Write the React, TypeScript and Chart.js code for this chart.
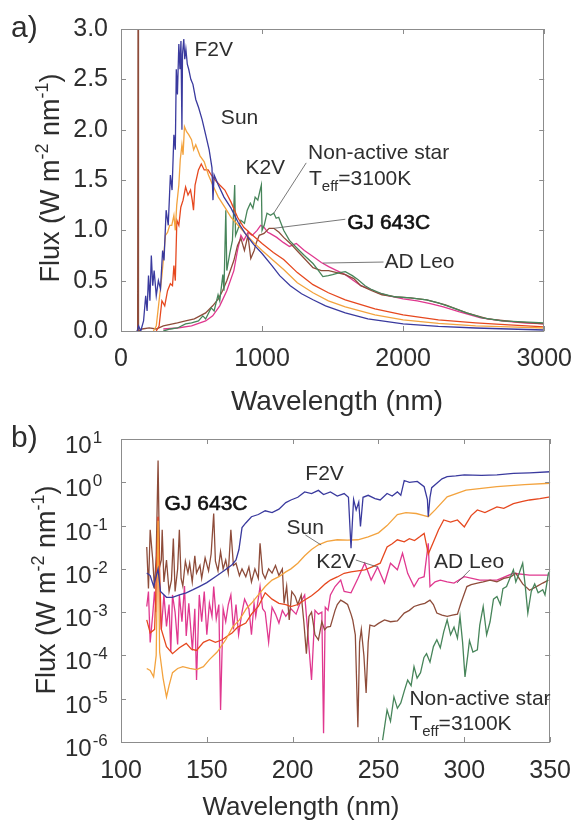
import React, { useEffect, useRef } from "react";
import { Chart, registerables } from "chart.js";
Chart.register(...registerables);

type Pt = [number, number];

// ---------------- Panel a: 0–3000 nm, linear flux (W m-2 nm-1) ----------------
const A_F2V: Pt[] = [
  [115, 0], [125, 0.05], [140, 0.0], [160, 0.1], [175, 0.35], [185, 0.2], [195, 0.55], [205, 0.3],
  [215, 0.75], [225, 0.45], [235, 0.6], [250, 0.35], [265, 0.5], [280, 0.42], [295, 0.8], [305, 0.7],
  [320, 1.2], [335, 1.05], [350, 1.55], [362, 1.4], [375, 1.95], [385, 1.8], [392, 2.6], [400, 2.35],
  [410, 2.85], [418, 2.6], [425, 2.88], [432, 2.0], [436, 2.75], [445, 2.9], [452, 2.7], [460, 2.8],
  [470, 2.65], [480, 2.6], [495, 2.5], [510, 2.45], [530, 2.3], [550, 2.22], [575, 2.1], [600, 1.95],
  [625, 1.8], [645, 1.62], [652, 1.3], [660, 1.55], [690, 1.45], [730, 1.33], [780, 1.22], [830, 1.08],
  [880, 0.97], [940, 0.86], [1000, 0.77], [1070, 0.65], [1125, 0.55], [1200, 0.45], [1280, 0.37],
  [1361, 0.31], [1450, 0.25], [1590, 0.18], [1750, 0.12], [2000, 0.07], [2250, 0.045], [2514, 0.03],
  [2750, 0.02], [3000, 0.01],
];
const A_SUN: Pt[] = [
  [230, 0], [250, 0.05], [270, 0.3], [290, 0.55], [300, 0.7], [315, 0.95], [330, 0.98], [345, 1.05],
  [360, 1.05], [375, 1.15], [385, 1.0], [395, 1.25], [410, 1.45], [420, 1.7], [432, 1.85], [440, 1.75],
  [450, 2.03], [465, 1.98], [480, 1.95], [500, 1.9], [515, 1.8], [530, 1.85], [560, 1.74], [590, 1.68],
  [620, 1.55], [650, 1.45], [690, 1.33], [740, 1.22], [780, 1.13], [830, 1.05], [880, 0.97], [940, 0.88],
  [1000, 0.8], [1080, 0.7], [1153, 0.61], [1250, 0.48], [1361, 0.38], [1470, 0.3], [1590, 0.24],
  [1800, 0.16], [2000, 0.11], [2250, 0.075], [2514, 0.05], [2750, 0.04], [3000, 0.03],
];
const A_K2V: Pt[] = [
  [250, 0], [270, 0.05], [290, 0.3], [310, 0.25], [330, 0.4], [350, 0.47], [365, 0.45], [375, 0.65],
  [385, 0.5], [396, 1.1], [410, 1.05], [424, 1.23], [440, 1.3], [458, 1.43], [475, 1.35], [493, 1.4],
  [505, 1.3], [514, 1.2], [525, 1.45], [549, 1.6], [569, 1.66], [590, 1.6], [618, 1.6], [640, 1.55],
  [667, 1.5], [700, 1.45], [736, 1.4], [780, 1.28], [826, 1.13], [870, 1.03], [917, 0.97], [1000, 0.87],
  [1080, 0.78], [1153, 0.71], [1250, 0.58], [1361, 0.46], [1470, 0.38], [1590, 0.31], [1800, 0.22],
  [2000, 0.16], [2250, 0.11], [2514, 0.08], [2750, 0.06], [3000, 0.04],
];
const A_NONACTIVE: Pt[] = [
  [300, 0], [350, 0.02], [400, 0.03], [458, 0.07], [500, 0.08], [549, 0.1], [580, 0.15], [600, 0.12],
  [639, 0.23], [660, 0.2], [688, 0.36], [700, 0.3], [722, 0.56], [730, 0.4], [743, 1.2], [750, 0.6],
  [771, 0.77], [790, 0.9], [806, 1.45], [812, 0.95], [826, 1.0], [850, 1.1], [875, 1.07], [895, 1.2],
  [917, 1.27], [935, 1.22], [951, 1.33], [970, 1.3], [986, 1.4], [995, 1.45], [1000, 1.0], [1015, 1.05],
  [1035, 1.17], [1060, 1.15], [1083, 1.17], [1100, 1.12], [1118, 1.13], [1153, 1.0], [1194, 0.9],
  [1243, 0.83], [1264, 0.8], [1300, 0.75], [1361, 0.67], [1400, 0.6], [1431, 0.54], [1470, 0.55],
  [1500, 0.56], [1550, 0.58], [1590, 0.59], [1640, 0.55], [1681, 0.51], [1730, 0.45], [1778, 0.41],
  [1850, 0.37], [1938, 0.34], [2050, 0.33], [2167, 0.31], [2250, 0.28], [2333, 0.24], [2450, 0.18],
  [2563, 0.13], [2700, 0.1], [2850, 0.09], [3000, 0.08],
];
const A_GJ643C: Pt[] = [
  [110, 0], [118, 0], [121, 3.5], [124, 0], [150, 0.02], [200, 0.03], [250, 0.02], [300, 0.05],
  [400, 0.08], [458, 0.1], [520, 0.12], [560, 0.15], [600, 0.18], [650, 0.25], [690, 0.32], [720, 0.4],
  [750, 0.5], [780, 0.62], [800, 0.7], [826, 0.85], [850, 0.92], [875, 0.8], [900, 0.95], [920, 0.72],
  [944, 0.8], [960, 0.88], [980, 0.95], [1014, 0.97], [1050, 1.02], [1083, 1.02], [1120, 0.98],
  [1153, 0.93], [1200, 0.87], [1260, 0.78], [1300, 0.72], [1361, 0.63], [1420, 0.6], [1472, 0.6],
  [1530, 0.58], [1590, 0.56], [1650, 0.52], [1700, 0.45], [1778, 0.4], [1850, 0.36], [1950, 0.34],
  [2050, 0.33], [2167, 0.31], [2300, 0.26], [2450, 0.18], [2600, 0.12], [2800, 0.09], [3000, 0.07],
];
const A_ADLEO: Pt[] = [
  [300, 0.02], [400, 0.03], [500, 0.05], [600, 0.1], [650, 0.15], [700, 0.25], [750, 0.4], [800, 0.6],
  [826, 0.8], [850, 0.95], [870, 0.9], [900, 0.98], [930, 0.95], [965, 1.0], [990, 1.05], [1014, 1.03],
  [1040, 0.98], [1056, 0.97], [1080, 0.95], [1104, 0.93], [1150, 0.88], [1194, 0.84], [1243, 0.87],
  [1300, 0.8], [1361, 0.74], [1420, 0.68], [1472, 0.64], [1530, 0.6], [1590, 0.56], [1650, 0.5],
  [1700, 0.45], [1778, 0.41], [1819, 0.38], [1900, 0.35], [2000, 0.32], [2100, 0.3], [2200, 0.27],
  [2285, 0.24], [2400, 0.19], [2550, 0.13], [2700, 0.1], [2850, 0.08], [3000, 0.07],
];
const A_X_TICKS = [0, 1000, 2000, 3000];
const A_Y_TICKS = [0, 0.5, 1.0, 1.5, 2.0, 2.5, 3.0];

// ---------------- Panel b: 100–350 nm, log flux ----------------
const B_F2V: Pt[] = [
  [115, 8e-3], [117, 7e-3], [119, 4e-3], [121.6, 1e-2], [123, 3e-3], [126.5, 2.2e-3], [130, 2.2e-3],
  [134, 2.5e-3], [138, 2.8e-3], [142, 3.3e-3], [145.6, 3.9e-3], [150, 4.8e-3], [155, 6.6e-3], [160, 9e-3],
  [164.7, 1.25e-2], [167, 1.6e-2], [168.7, 2.8e-2], [170.5, 9e-2], [172.7, 1.15e-1], [176, 1.6e-1],
  [180, 1.8e-1], [184, 2.2e-1], [188, 2.0e-1], [192, 2.4e-1], [196, 3.4e-1], [199, 3.9e-1], [203, 4.5e-1],
  [207, 6.0e-1], [211, 5.5e-1], [215, 6.5e-1], [218, 5.2e-1], [222, 6.0e-1], [226, 4.8e-1], [230, 5.5e-1],
  [232.5, 4.5e-1], [234, 3.0e-2], [235.5, 4.0e-1], [237, 2.3e-1], [238.5, 3.5e-1], [239.5, 9.5e-2],
  [241, 4.5e-1], [244, 5.0e-1], [248, 4.2e-1], [251, 3.9e-1], [255, 5.5e-1], [258, 4.8e-1], [261, 6.0e-1],
  [263, 5.0e-1], [265, 1.1], [268, 1.0], [272.6, 1.05], [276.6, 7.9e-1], [278.5, 4.0e-1], [279, 1.6e-1],
  [280, 4.5e-1], [281, 7.5e-1], [284, 9.5e-1], [287, 1.2], [290, 1.35], [295, 1.4], [300, 1.48],
  [310, 1.45], [319, 1.48], [328.6, 1.6], [338, 1.65], [350, 1.75],
];
const B_SUN: Pt[] = [
  [115, 5e-5], [117, 4.5e-5], [119, 3.2e-5], [120.5, 1e-4], [121.6, 1.3e-1], [122.5, 1.2e-4],
  [124.5, 3e-5], [126.5, 1.1e-5], [128, 2e-5], [130, 4e-5], [133, 5e-5], [136, 5.5e-5], [140, 5e-5],
  [144, 4.7e-5], [148, 5.5e-5], [151.5, 8e-5], [156, 1.2e-4], [161, 2.3e-4], [165, 4.5e-4], [169, 6.6e-4],
  [173, 1.2e-3], [176, 1.6e-3], [180, 2.5e-3], [184, 3.9e-3], [188, 5.5e-3], [192, 6.6e-3], [196, 8.5e-3],
  [199, 1.0e-2], [203, 1.35e-2], [207, 2.0e-2], [211, 2.8e-2], [215, 3.6e-2], [220, 4.3e-2], [226, 4.7e-2],
  [232, 4.6e-2], [238, 4.7e-2], [244, 5.5e-2], [250, 6.8e-2], [255, 1.0e-1], [261, 1.8e-1], [266, 2.0e-1],
  [272, 1.9e-1], [276.6, 1.7e-1], [279, 1.6e-1], [283, 2.3e-1], [290, 4.6e-1], [301, 6.6e-1],
  [319, 7.9e-1], [335, 8.8e-1], [350, 9.5e-1],
];
const B_K2V: Pt[] = [
  [115, 6.6e-4], [117, 3.3e-4], [119.6, 4e-4], [121.6, 1.6e-1], [123.5, 4e-4], [126.5, 1.6e-4],
  [130, 1.1e-4], [134, 1.5e-4], [138, 1.9e-4], [141, 1.4e-4], [144, 1.3e-4], [148, 2.0e-4], [151.5, 2.3e-4],
  [155, 2.0e-4], [159, 2.3e-4], [162, 2.8e-4], [164.7, 3.3e-4], [168, 4.5e-4], [172.7, 5.6e-4], [176, 9e-4],
  [180, 1.35e-3], [184, 2.8e-3], [188, 2.0e-3], [192, 1.6e-3], [196, 1.5e-3], [199, 1.35e-3], [203, 1.5e-3],
  [207, 1.9e-3], [211, 2.4e-3], [215, 3.2e-3], [219, 4.5e-3], [222, 5.5e-3], [226, 6.5e-3], [230, 7.9e-3],
  [234, 8.5e-3], [238, 9e-3], [242, 9.5e-3], [246, 1.1e-2], [251, 1.35e-2], [255, 3.2e-2], [258, 3.8e-2],
  [261, 4.7e-2], [265, 4.2e-2], [268, 5.0e-2], [271, 4.5e-2], [274, 5.5e-2], [276.6, 6.6e-2], [279, 2.2e-2],
  [282, 4.2e-2], [285, 8.0e-2], [288, 1.35e-1], [292, 1.2e-1], [296, 1.35e-1], [300, 9.3e-2], [304, 1.7e-1],
  [307.6, 2.3e-1], [312, 2.0e-1], [319, 2.7e-1], [323, 2.5e-1], [328.6, 3.2e-1], [334, 3.6e-1],
  [338, 3.9e-1], [344, 4.2e-1], [350, 4.6e-1],
];
const B_GJ643C: Pt[] = [
  [115, 3.2e-2], [116, 3.5e-3], [117, 8e-2], [118.5, 1.6e-2], [119.5, 3.5e-3], [120.5, 2e-2], [121.6, 3.2],
  [122.5, 1.1e-2], [123.5, 1.6e-2], [124, 8e-2], [125, 5e-3], [126.5, 1.6e-2], [128, 3e-3], [129.4, 5.5e-3],
  [130.5, 5e-2], [131.5, 3e-3], [133, 1e-2], [134, 8e-2], [135, 6e-3], [136, 4e-3], [137.5, 1.5e-2],
  [139, 8e-3], [140, 1.35e-2], [141.5, 5e-3], [143, 2e-2], [144, 8e-3], [146, 1.2e-2], [147, 6e-3],
  [149, 1.8e-2], [151, 9e-3], [152.5, 2.2e-2], [154, 1.9e-1], [155, 1.5e-2], [156.5, 9e-3], [158, 2.5e-2],
  [159.5, 1e-2], [161, 1.6e-2], [162.5, 8e-3], [164, 8e-2], [165.5, 1.2e-2], [167, 1.35e-2], [169, 7e-3],
  [170.5, 1.0e-2], [172.7, 6.6e-3], [174.5, 1.1e-2], [176, 5e-3], [178, 1.0e-2], [180, 6e-3], [181, 3.9e-2],
  [182.5, 8e-3], [184, 6e-3], [186, 1.0e-2], [188, 8e-3], [190, 1.2e-2], [192, 7e-3], [194, 1.0e-2],
  [195, 1.6e-3], [196.5, 4e-3], [198, 6.6e-4], [199.5, 3e-3], [201.5, 2.3e-3], [203, 1.5e-3], [205, 2.5e-3],
  [206.5, 6e-4], [208, 1.1e-4], [209.5, 8e-4], [211, 1.0e-3], [213, 3e-4], [215, 2.3e-4], [217, 6e-4],
  [218.6, 3.9e-4], [220, 4.5e-4], [222, 4.7e-4], [224.7, 1.1e-3], [226, 1.5e-3], [228, 1.9e-3],
  [230, 1.7e-3], [232, 1.5e-3], [234, 9e-4], [235, 6.6e-4], [236.5, 3e-4], [238, 2.2e-6], [239, 2e-4],
  [240, 4e-4], [241.5, 1e-4], [242.8, 1.35e-5], [244, 2e-4], [245, 5e-4], [247.6, 4.7e-4], [250, 5.5e-4],
  [253.5, 6.6e-4], [257, 6.0e-4], [261, 6.3e-4], [265, 9.5e-4], [268, 1.1e-3], [270.7, 1.35e-3],
  [274, 1.5e-3], [277, 1.6e-3], [280, 1.9e-3], [282, 1.5e-3], [284, 9.5e-4], [287, 8.5e-4], [290, 8.0e-4],
  [293, 8.5e-4], [296, 9.0e-4], [298, 1.6e-3], [301.5, 3.9e-3], [304, 4.3e-3], [307.6, 4.7e-3],
  [311, 5.0e-3], [315, 5.5e-3], [319, 5.0e-3], [323, 6.0e-3], [327, 6.5e-3], [330, 7.9e-3], [334, 4.5e-3],
  [338, 3.2e-3], [342, 3.9e-3], [345.7, 4.7e-3], [349, 5.5e-3],
];
const B_ADLEO: Pt[] = [
  [115, 1.35e-3], [116, 3e-3], [117, 2e-4], [118.5, 9e-4], [119.5, 3e-3], [120.5, 1e-3], [121.6, 1.6e-1],
  [122.5, 2e-3], [123.5, 4e-4], [125, 2.5e-3], [126.5, 4.7e-4], [128, 1.5e-3], [129, 1.2e-4], [130, 2.5e-3],
  [131.5, 1e-3], [133, 1.8e-4], [134, 2.5e-3], [135.5, 6e-4], [137, 4e-3], [138, 2.8e-4], [139.5, 1.6e-3],
  [141.6, 1.3e-4], [143, 1.2e-3], [144, 2.7e-5], [145.6, 2.5e-3], [147, 6e-4], [148.5, 3e-3], [150, 3e-4],
  [151.5, 1.6e-3], [153, 8e-4], [154, 3.9e-3], [155.5, 7e-4], [157, 1.5e-3], [158, 5.5e-6], [159.5, 1.2e-3],
  [161, 6e-4], [162.5, 1.5e-3], [164, 2.5e-3], [165.5, 4e-4], [167, 1.5e-3], [168.5, 3e-4], [170.5, 1e-3],
  [172, 2e-3], [174.5, 1.2e-3], [176, 3e-4], [177.5, 1.6e-3], [178.5, 8e-4], [181, 3.9e-3], [182.5, 1.2e-3],
  [184, 1e-3], [186, 2e-4], [188, 1.3e-3], [190, 9e-4], [192, 5.6e-4], [194, 1.1e-3], [196, 8e-4],
  [199, 1.2e-3], [202, 9e-4], [204, 1.5e-3], [207, 2.5e-3], [209, 2.8e-4], [211, 2.7e-5], [213, 1.1e-3],
  [215, 9e-4], [217, 1e-3], [218, 1.6e-6], [219, 1.3e-3], [220.6, 1.1e-3], [222, 2.5e-3], [224.7, 3.9e-3],
  [228, 5.5e-3], [230, 3e-3], [234, 2.8e-3], [238, 6e-3], [242, 1.35e-2], [245.7, 5.5e-3], [249.5, 1.1e-2],
  [253.5, 4.7e-3], [257, 1.35e-2], [261, 9.5e-3], [264, 2.3e-2], [267, 7.9e-3], [270.7, 3.9e-3],
  [273.5, 6e-3], [276.6, 6.6e-3], [279, 3.9e-2], [280, 3.9e-3], [283, 5e-3], [286, 5.5e-3], [290, 5e-3],
  [294, 4.7e-3], [300, 6.6e-3], [309, 5.5e-3], [319, 5.5e-3], [328.6, 7.9e-3], [338, 7.2e-3], [349, 7.2e-3],
];
const B_NONACTIVE: Pt[] = [
  [252.4, 1.1e-6], [255, 5.5e-6], [257, 3e-6], [259, 1.1e-5], [261, 6e-6], [263, 8e-6], [265, 1.5e-5],
  [267, 2.7e-5], [269, 2.0e-5], [270.7, 5.5e-5], [272.5, 3e-5], [274.5, 4e-5], [276.5, 9e-5], [278, 1.1e-4],
  [280, 7e-5], [282, 1.6e-4], [284, 2.3e-4], [286, 1.5e-4], [288, 3.5e-4], [290, 6.6e-4], [292, 3e-4],
  [294, 4.5e-4], [296, 2.5e-4], [297.5, 8e-4], [299, 2e-4], [300.4, 3.2e-5], [302, 1e-4], [303, 2.2e-4],
  [305, 1.2e-4], [307.6, 1.35e-4], [309, 5e-4], [311, 1.35e-3], [313, 3e-4], [315, 6e-4], [317, 2e-3],
  [319, 2.3e-3], [321, 1.5e-3], [322.5, 3.5e-3], [324.6, 3.9e-3], [326.5, 6e-3], [328.6, 9.5e-3],
  [330, 5e-3], [332, 8e-3], [334, 1.35e-2], [335.5, 4e-3], [337, 9.5e-4], [339, 3e-3], [341, 4.5e-3],
  [343, 2.8e-3], [345.7, 3.3e-3], [347, 2.5e-3], [349, 7.9e-3], [350, 9e-3],
];
const B_X_TICKS = [100, 150, 200, 250, 300, 350];
const B_Y_EXPONENTS = [1, 0, -1, -2, -3, -4, -5, -6];

const SERIES = ["F2V", "Sun", "K2V", "Non-active star", "GJ 643C", "AD Leo"];

// ---------------- Styling ----------------
const FONT = '"Liberation Sans", Arial, Helvetica, sans-serif';
const TEXT = "#2e2e2e";
const COLORS: Record<string, string> = {
  "F2V": "#3a3a9e",
  "Sun": "#f3a33e",
  "K2V": "#e6481f",
  "Non-active star": "#47855a",
  "GJ 643C": "#8e4c3a",
  "AD Leo": "#e0388f",
};

type Seg = { t: string; m?: "sup" | "sub" };
type Note = { segs: Seg[]; x: number; y: number; strong?: boolean };
type Leader = [number, number, number, number];

const TEFF: Seg[] = [{ t: "T" }, { t: "eff", m: "sub" }, { t: "=3100K" }];
const A_NOTES: Note[] = [
  { segs: [{ t: "F2V" }], x: 521, y: 2.81 },
  { segs: [{ t: "Sun" }], x: 708, y: 2.13 },
  { segs: [{ t: "K2V" }], x: 882, y: 1.63 },
  { segs: [{ t: "Non-active star" }], x: 1326, y: 1.78 },
  { segs: TEFF, x: 1333, y: 1.52 },
  { segs: [{ t: "GJ 643C" }], x: 1604, y: 1.09, strong: true },
  { segs: [{ t: "AD Leo" }], x: 1868, y: 0.7 },
];
const A_LEADERS: Leader[] = [
  [1313, 1.67, 1083, 1.17],
  [1590, 1.11, 1083, 1.02],
  [1861, 0.685, 1431, 0.675],
];
const B_NOTES: Note[] = [
  { segs: [{ t: "F2V" }], x: 207.4, y: 1.64 },
  { segs: [{ t: "GJ 643C" }], x: 125.4, y: 0.35, strong: true },
  { segs: [{ t: "Sun" }], x: 196.4, y: 0.093 },
  { segs: [{ t: "K2V" }], x: 213.7, y: 0.0152 },
  { segs: [{ t: "AD Leo" }], x: 282.4, y: 0.0152 },
  { segs: [{ t: "Non-active star" }], x: 268, y: 1.04e-5 },
  { segs: TEFF, x: 268, y: 2.77e-6 },
];
const B_LEADERS: Leader[] = [
  [207.4, 0.0607, 216.6, 0.0356],
  [236.8, 0.016, 249.5, 0.011],
  [303.2, 9.4e-3, 295.7, 4.7e-3],
];
const Y_TITLE: Seg[] = [{ t: "Flux (W m" }, { t: "-2", m: "sup" }, { t: " nm" }, { t: "-1", m: "sup" }, { t: ")" }];

function drawRich(
  ctx: CanvasRenderingContext2D,
  segs: Seg[],
  x: number,
  y: number,
  size: number,
  align: "left" | "center",
  opts: { rotate?: boolean; color?: string; strong?: boolean; small?: number } = {}
) {
  const small = opts.small ?? Math.round(size * 0.68);
  const fontOf = (s: Seg) => `${s.m ? small : size}px ${FONT}`;
  const widths = segs.map((s) => {
    ctx.font = fontOf(s);
    return ctx.measureText(s.t).width;
  });
  const total = widths.reduce((a, b) => a + b, 0);
  ctx.save();
  ctx.translate(x, y);
  if (opts.rotate) ctx.rotate(-Math.PI / 2);
  ctx.textAlign = "left";
  ctx.textBaseline = "alphabetic";
  ctx.fillStyle = opts.color ?? TEXT;
  ctx.strokeStyle = opts.color ?? TEXT;
  let cx = align === "center" ? -total / 2 : 0;
  segs.forEach((s, i) => {
    ctx.font = fontOf(s);
    const dy = s.m === "sup" ? -size * 0.4 : s.m === "sub" ? size * 0.28 : 0;
    ctx.fillText(s.t, cx, dy);
    if (opts.strong) {
      ctx.lineWidth = 0.6;
      ctx.strokeText(s.t, cx, dy);
    }
    cx += widths[i];
  });
  ctx.restore();
}

type PanelCfg = {
  key: "a" | "b";
  height: number;
  pad: { top: number; right: number };
  xHeight: number;
  series: Pt[][];
  xMin: number;
  xMax: number;
  xTicks: number[];
  yLog: boolean;
  yMin: number;
  yMax: number;
  yTicks: number[];
  notes: Note[];
  leaders: Leader[];
  xTitleSize: number;
  xTitleBase: number;
  xTitleCenter: number;
  yTitleX: number;
  yTitleY: number;
  tickPad: number;
};

function makeDecor(cfg: PanelCfg) {
  return {
    id: "decor" + cfg.key,
    afterDraw(chart: any) {
      const ctx: CanvasRenderingContext2D = chart.ctx;
      const { left, right, top, bottom } = chart.chartArea;
      const xs = chart.scales.x;
      const ys = chart.scales.y;
      ctx.save();
      // frame
      ctx.strokeStyle = "#8c8c8c";
      ctx.lineWidth = 1;
      ctx.strokeRect(Math.round(left) + 0.5, Math.round(top) + 0.5, Math.round(right - left) - 1, Math.round(bottom - top));
      // inward tick marks on all four sides
      const TL = 5;
      ctx.beginPath();
      cfg.xTicks.forEach((v) => {
        const px = Math.round(xs.getPixelForValue(v)) + 0.5;
        ctx.moveTo(px, bottom);
        ctx.lineTo(px, bottom - TL);
        ctx.moveTo(px, top);
        ctx.lineTo(px, top + TL);
      });
      cfg.yTicks.forEach((v) => {
        const py = Math.round(ys.getPixelForValue(v)) + 0.5;
        ctx.moveTo(left, py);
        ctx.lineTo(left + TL, py);
        ctx.moveTo(right, py);
        ctx.lineTo(right - TL, py);
      });
      ctx.stroke();

      // log tick labels (10^n) for panel b
      if (cfg.yLog) {
        B_Y_EXPONENTS.forEach((e) => {
          const py = ys.getPixelForValue(Math.pow(10, e));
          ctx.fillStyle = TEXT;
          ctx.textAlign = "left";
          ctx.textBaseline = "alphabetic";
          ctx.font = `24px ${FONT}`;
          ctx.fillText("10", 65, py + 14);
          const w = ctx.measureText("10").width;
          ctx.font = `17px ${FONT}`;
          ctx.fillText(String(e), 65 + w + 1, py + 4);
        });
      }

      // leader lines
      ctx.strokeStyle = "#555555";
      ctx.lineWidth = 0.8;
      ctx.beginPath();
      cfg.leaders.forEach(([x1, y1, x2, y2]) => {
        ctx.moveTo(xs.getPixelForValue(x1), ys.getPixelForValue(y1));
        ctx.lineTo(xs.getPixelForValue(x2), ys.getPixelForValue(y2));
      });
      ctx.stroke();

      // annotations
      cfg.notes.forEach((n) => {
        const px = xs.getPixelForValue(n.x);
        const py = ys.getPixelForValue(n.y);
        drawRich(ctx, n.segs, px, py + 7.5, 21, "left", {
          strong: n.strong,
          color: n.strong ? "#111111" : TEXT,
          small: 15,
        });
      });

      // titles
      ctx.fillStyle = TEXT;
      ctx.font = `${cfg.xTitleSize}px ${FONT}`;
      ctx.textAlign = "center";
      ctx.textBaseline = "alphabetic";
      ctx.fillText("Wavelength (nm)", cfg.xTitleCenter, cfg.xTitleBase);
      drawRich(ctx, Y_TITLE, cfg.yTitleX, cfg.yTitleY, 27, "center", { rotate: true, small: 18 });

      // panel letter
      ctx.fillStyle = TEXT;
      ctx.font = `30px ${FONT}`;
      ctx.textAlign = "left";
      ctx.fillText(cfg.key + ")", 11, cfg.key === "a" ? 37 : 27);
      ctx.restore();
    },
  };
}

function buildConfig(cfg: PanelCfg): any {
  const datasets = SERIES.map((name, i) => ({
    label: name,
    data: cfg.series[i].map(([x, y]) => ({ x, y })),
    borderColor: COLORS[name],
    backgroundColor: COLORS[name],
    borderWidth: 1.3,
    pointRadius: 0,
    tension: 0,
    fill: false,
  }));
  const tickFont = { family: FONT, size: 25, lineHeight: 1.2 };
  return {
    type: "line",
    data: { datasets },
    options: {
      animation: false,
      responsive: false,
      events: [],
      layout: { padding: { left: 0, right: cfg.pad.right, top: cfg.pad.top, bottom: 0 } },
      plugins: { legend: { display: false }, tooltip: { enabled: false } },
      scales: {
        x: {
          type: "linear",
          min: cfg.xMin,
          max: cfg.xMax,
          grid: { display: false, drawTicks: false },
          border: { display: false },
          ticks: {
            font: tickFont,
            color: TEXT,
            padding: cfg.tickPad,
            autoSkip: false,
            maxRotation: 0,
            callback: (v: number) => String(v),
          },
          afterBuildTicks: (s: any) => {
            s.ticks = cfg.xTicks.map((v) => ({ value: v }));
          },
          afterFit: (s: any) => {
            s.height = cfg.xHeight;
          },
        },
        y: {
          type: cfg.yLog ? "logarithmic" : "linear",
          min: cfg.yMin,
          max: cfg.yMax,
          grid: { display: false, drawTicks: false },
          border: { display: false },
          ticks: {
            display: !cfg.yLog,
            font: tickFont,
            color: TEXT,
            padding: 13,
            autoSkip: false,
            callback: (v: number) => Number(v).toFixed(1),
          },
          afterBuildTicks: (s: any) => {
            s.ticks = cfg.yTicks.map((v) => ({ value: v }));
          },
          afterFit: (s: any) => {
            s.width = 121;
          },
        },
      },
    },
    plugins: [makeDecor(cfg)],
  };
}

const PANEL_A: PanelCfg = {
  key: "a",
  height: 420,
  pad: { top: 29, right: 32 },
  xHeight: 89,
  series: [A_F2V, A_SUN, A_K2V, A_NONACTIVE, A_GJ643C, A_ADLEO],
  xMin: 0,
  xMax: 3000,
  xTicks: A_X_TICKS,
  yLog: false,
  yMin: 0,
  yMax: 3,
  yTicks: A_Y_TICKS,
  notes: A_NOTES,
  leaders: A_LEADERS,
  xTitleSize: 28,
  xTitleBase: 410,
  xTitleCenter: 337,
  yTitleX: 59,
  yTitleY: 178,
  tickPad: 13,
};

const PANEL_B: PanelCfg = {
  key: "b",
  height: 400,
  pad: { top: 19, right: 31 },
  xHeight: 78,
  series: [B_F2V, B_SUN, B_K2V, B_NONACTIVE, B_GJ643C, B_ADLEO],
  xMin: 100,
  xMax: 350,
  xTicks: B_X_TICKS,
  yLog: true,
  yMin: 1e-6,
  yMax: 10,
  yTicks: B_Y_EXPONENTS.map((e) => Math.pow(10, e)),
  notes: B_NOTES,
  leaders: B_LEADERS,
  xTitleSize: 26,
  xTitleBase: 395,
  xTitleCenter: 301,
  yTitleX: 55,
  yTitleY: 170,
  tickPad: 14,
};

function Panel({ cfg, top }: { cfg: PanelCfg; top: number }) {
  const ref = useRef<HTMLCanvasElement>(null);
  useEffect(() => {
    if (!ref.current) return;
    const chart = new Chart(ref.current, buildConfig(cfg));
    return () => chart.destroy();
  }, [cfg]);
  return (
    <canvas
      ref={ref}
      width={585}
      height={cfg.height}
      style={{ position: "absolute", left: 0, top, width: 585, height: cfg.height, display: "block" }}
    />
  );
}

export default function App() {
  return (
    <div
      style={{
        position: "absolute",
        left: 0,
        top: 0,
        width: 585,
        height: 820,
        overflow: "hidden",
        background: "#ffffff",
      }}
    >
      <Panel cfg={PANEL_A} top={0} />
      <Panel cfg={PANEL_B} top={420} />
    </div>
  );
}
